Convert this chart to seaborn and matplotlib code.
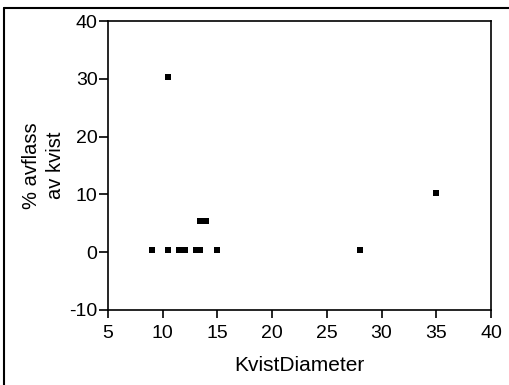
import matplotlib
matplotlib.use("Agg")
import matplotlib.pyplot as plt
import seaborn as sns
import pandas as pd
from matplotlib.lines import Line2D

kvist_diameter = [9.0, 10.5, 10.5, 11.5, 12.0, 13.0, 13.4, 15.0, 13.4, 14.0, 28.0, 35.0]
avflass = [0.3, 0.3, 30.3, 0.3, 0.3, 0.3, 0.3, 0.3, 5.4, 5.4, 0.3, 10.3]
x_ticks = [5, 10, 15, 20, 25, 30, 35, 40]
y_ticks = [-10, 0, 10, 20, 30, 40]

df = pd.DataFrame({"KvistDiameter": kvist_diameter, "avflass": avflass})

sns.set_theme(style="white")
plt.rcParams['font.family'] = ['Liberation Sans', 'DejaVu Sans']
plt.rcParams['axes.unicode_minus'] = False

fig = plt.figure(figsize=(5.09, 3.85), dpi=100)
ax = fig.add_axes([108/509, 1-310/385, (491-108)/509, (310-21)/385])

sns.scatterplot(data=df, x="KvistDiameter", y="avflass", marker="s", s=14,
                color="black", edgecolor="black", linewidth=0, ax=ax, legend=False)

ax.set_xlim(5, 40)
ax.set_ylim(-10, 40)
ax.set_xticks(x_ticks)
ax.set_yticks(y_ticks)
ax.tick_params(axis="both", direction="out", colors="black", labelsize=14, width=1.2,
               bottom=True, left=True)
ax.tick_params(axis="y", length=6.5, pad=1)
ax.tick_params(axis="x", length=6, pad=5)
for sp in ax.spines.values():
    sp.set_visible(True)
    sp.set_color("black")
    sp.set_linewidth(1.2)
ax.set_xlabel("KvistDiameter", fontsize=15, color="black", labelpad=10)
ax.set_ylabel("% avflass\nav kvist", fontsize=14.5, color="black", labelpad=3, linespacing=1.35)

fig.add_artist(Line2D([4/509, 4/509], [0, 1-8/385], transform=fig.transFigure, color="black", lw=1.5))
fig.add_artist(Line2D([4/509, 1], [1-8/385, 1-8/385], transform=fig.transFigure, color="black", lw=1.5))

fig.savefig("out.png", dpi=100)
